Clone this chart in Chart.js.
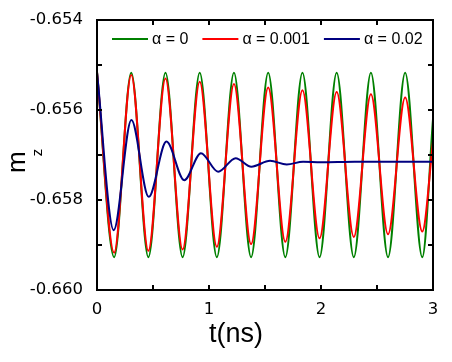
<!DOCTYPE html>
<html><head><meta charset="utf-8">
<script src="https://cdn.jsdelivr.net/npm/chart.js@4.4.0/dist/chart.umd.min.js"></script>
<style>html,body{margin:0;padding:0;background:#fff;}#wrap{width:452px;height:362px;}</style>
</head><body><div id="wrap"><canvas id="c" width="452" height="362"></canvas></div>
<script>
const seriesLabels = ['\u03b1 = 0', '\u03b1 = 0.001', '\u03b1 = 0.02'];
const seriesColors = ['#008000', '#ff0000', '#000080'];

// time (ns) of the extrema, for the two weakly damped runs
const tOsc = [0, 0.1529, 0.3057, 0.4586, 0.6114, 0.7643, 0.9171, 1.0700, 1.2228, 1.3757,
  1.5285, 1.6814, 1.8342, 1.9871, 2.1399, 2.2928, 2.4456, 2.5985, 2.7513, 2.9042, 3.0];
const mzAlpha0 = [-0.65516, -0.65927, -0.65517, -0.65927, -0.65517, -0.65927, -0.65517, -0.65927,
  -0.65517, -0.65927, -0.65517, -0.65927, -0.65517, -0.65927, -0.65517, -0.65927, -0.65517,
  -0.65927, -0.65517, -0.65927, -0.65620];
const mzAlpha001 = [-0.65516, -0.65917, -0.65522, -0.65913, -0.65530, -0.65910, -0.65537, -0.65904,
  -0.65542, -0.65898, -0.65550, -0.65893, -0.65556, -0.65885, -0.65560, -0.65882, -0.65565,
  -0.65876, -0.65572, -0.65870, -0.65670];

// strongly damped run
const tDamped = [0, 0.149, 0.307, 0.462, 0.620, 0.779, 0.928, 1.082, 1.238, 1.378, 1.545, 1.694,
  1.840, 2.000, 2.300, 2.600, 3.0];
const mzAlpha02 = [-0.65516, -0.65867, -0.65622, -0.65793, -0.65670, -0.65756, -0.65696, -0.65737,
  -0.65707, -0.65726, -0.65713, -0.65721, -0.65715, -0.65716, -0.65715, -0.65715, -0.65715];

const xTicksMajor = [0, 1, 2, 3];
const yTicksMajor = [-0.654, -0.656, -0.658, -0.660];
const xTitle = 't(ns)';
const yTitleMain = 'm';
const yTitleSub = 'z';

function pts(xs, ys) { return xs.map((x, i) => ({x: x, y: ys[i]})); }

const framePlugin = {
  id: 'frame',
  afterDatasetsDraw(chart) {
    const ctx = chart.ctx, a = chart.chartArea;
    const xs = chart.scales.x, ys = chart.scales.y;
    ctx.save();
    ctx.strokeStyle = '#000';
    ctx.lineWidth = 2;
    ctx.lineCap = 'butt';
    ctx.beginPath();
    xs.ticks.forEach(t => {
      const p = xs.getPixelForValue(t.value);
      ctx.moveTo(p, a.bottom); ctx.lineTo(p, a.bottom - 5);
      ctx.moveTo(p, a.top); ctx.lineTo(p, a.top + 5);
    });
    ys.ticks.forEach(t => {
      const p = ys.getPixelForValue(t.value);
      ctx.moveTo(a.left, p); ctx.lineTo(a.left + 5, p);
      ctx.moveTo(a.right, p); ctx.lineTo(a.right - 5, p);
    });
    ctx.stroke();
    ctx.strokeRect(a.left, a.top, a.right - a.left, a.bottom - a.top);

    // legend inside the plot
    ctx.font = '16px "Liberation Sans", Arial, sans-serif';
    ctx.textBaseline = 'middle';
    ctx.textAlign = 'left';
    let x = a.left + 15;
    const y = a.top + 19;
    chart.data.datasets.forEach(ds => {
      ctx.strokeStyle = ds.borderColor;
      ctx.lineWidth = 2;
      ctx.beginPath(); ctx.moveTo(x, y); ctx.lineTo(x + 36, y); ctx.stroke();
      x += 40;
      ctx.fillStyle = '#000';
      ctx.fillText(ds.label, x, y + 1);
      x += ctx.measureText(ds.label).width + 14;
    });

    // axis titles
    ctx.fillStyle = '#000';
    ctx.font = '27px "Liberation Sans", Arial, sans-serif';
    ctx.textAlign = 'center';
    ctx.textBaseline = 'alphabetic';
    ctx.fillText(xTitle, 236, 342);

    ctx.save();
    ctx.translate(25, 173);
    ctx.rotate(-Math.PI / 2);
    ctx.textAlign = 'left';
    ctx.font = '26px "Liberation Sans", Arial, sans-serif';
    ctx.fillText(yTitleMain, 0, 0);
    const mw = ctx.measureText(yTitleMain).width;
    ctx.font = '15px "Liberation Sans", Arial, sans-serif';
    ctx.fillText(yTitleSub, mw - 5, 17);
    ctx.restore();
    ctx.restore();
  }
};

new Chart(document.getElementById('c'), {
  type: 'line',
  data: {
    datasets: [
      {label: seriesLabels[0], data: pts(tOsc, mzAlpha0), borderColor: seriesColors[0], order: 2},
      {label: seriesLabels[1], data: pts(tOsc, mzAlpha001), borderColor: seriesColors[1], order: 1},
      {label: seriesLabels[2], data: pts(tDamped, mzAlpha02), borderColor: seriesColors[2], order: 0}
    ]
  },
  options: {
    responsive: false,
    animation: false,
    devicePixelRatio: 1,
    layout: {padding: {left: 0, right: 19, top: 20, bottom: 0}},
    plugins: {legend: {display: false}, tooltip: {enabled: false}, title: {display: false}},
    elements: {
      point: {radius: 0},
      line: {borderWidth: 2, cubicInterpolationMode: 'monotone', fill: false, borderJoinStyle: 'round'}
    },
    scales: {
      x: {
        type: 'linear', min: 0, max: 3,
        grid: {display: false}, border: {display: false},
        ticks: {
          stepSize: 0.5, autoSkip: false, maxRotation: 0, padding: 2, color: '#000',
          font: {family: '"DejaVu Sans"', size: 16.5},
          callback: v => xTicksMajor.some(m => Math.abs(m - v) < 1e-9) ? String(Math.round(v)) : ''
        },
        afterFit: s => { s.height = 72; }
      },
      y: {
        type: 'linear', min: -0.660, max: -0.654,
        grid: {display: false}, border: {display: false},
        ticks: {
          stepSize: 0.001, autoSkip: false, padding: 6, color: '#000',
          font: {family: '"DejaVu Sans"', size: 16.5},
          callback: v => yTicksMajor.some(m => Math.abs(m - v) < 1e-9) ? v.toFixed(3) : ''
        },
        afterFit: s => { s.width = 97; }
      }
    }
  },
  plugins: [framePlugin]
});
</script></body></html>
